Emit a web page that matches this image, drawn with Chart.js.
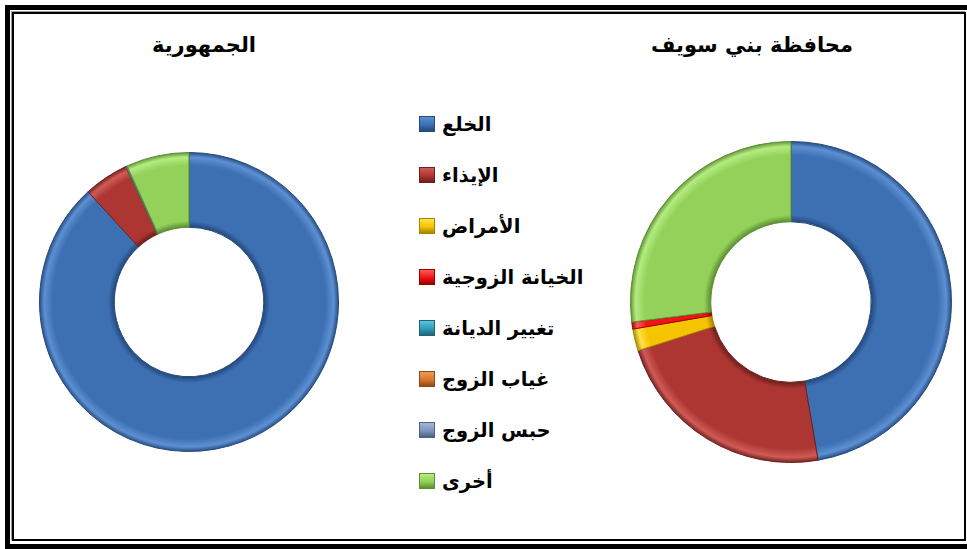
<!DOCTYPE html>
<html lang="ar">
<head>
<meta charset="utf-8">
<script src="https://cdn.jsdelivr.net/npm/chart.js@4"></script>
<style>
  body { margin: 0; background: #fff; width: 967px; height: 549px; overflow: hidden; position: relative; font-family: "DejaVu Sans", sans-serif; }
  .frame-out { position: absolute; left: 5px; top: 5px; width: 980px; height: 534px; border: 5px solid #000; }
  .frame-in { position: absolute; left: 12px; top: 12px; width: 950px; height: 525px; border: 2px solid #000; box-shadow: -1px -1px 0 #999; }
  .title { position: absolute; top: 33px; font-weight: bold; font-size: 21px; direction: rtl; white-space: nowrap; transform: translateX(-50%); }
  .box { position: absolute; }
  #legend { position: absolute; left: 419px; top: 0; }
  .item { position: absolute; left: 0; height: 26px; display: flex; align-items: center; white-space: nowrap; }
  .mark { width: 14px; height: 14px; border: 1px solid; margin-right: 7px; }
  .lbl { font-weight: bold; font-size: 19.5px; direction: rtl; }
</style>
</head>
<body>
<div class="frame-out"></div>
<div class="frame-in"></div>

<div class="title" style="left:204px">الجمهورية</div>
<div class="title" style="left:752px">محافظة بني سويف</div>

<div class="box" style="left:39px; top:152px; width:300px; height:300px;"><canvas id="chart-left"></canvas></div>
<div class="box" style="left:630px; top:141px; width:322px; height:322px;"><canvas id="chart-right"></canvas></div>
<div id="legend"></div>

<script>
// بيانات
const categories = ["الخلع", "الإيذاء", "الأمراض", "الخيانة الزوجية", "تغيير الديانة", "غياب الزوج", "حبس الزوج", "أخرى"];
const republicValues = [88.2, 4.8, 0.03, 0.02, 0.01, 0.02, 0.12, 6.8];
const beniSuefValues = [47.3, 22.8, 2.2, 0.7, 0, 0, 0, 27.0];
const sliceColors = ["#3d6fb3", "#ad3633", "#f5c400", "#f01414", "#2f9bb8", "#d9772b", "#7d94bd", "#93d15a"];
const lightColors = ["#5d8fd3", "#cf5a56", "#ffe24a", "#ff5a5a", "#5cc3dc", "#f29a55", "#a3b6d8", "#b4ec80"];
const edgeColors = ["#244a7c", "#6e1f1d", "#a88400", "#9a0000", "#1d6678", "#8e4a16", "#4f6283", "#5e8f33"];

// legend
const legend = document.getElementById("legend");
categories.forEach(function(c, i) {
  var item = document.createElement("div");
  item.className = "item";
  item.style.top = (111 + i * 51) + "px";
  item.innerHTML = '<span class="mark" style="background:linear-gradient(to bottom,' + lightColors[i] + ',' + sliceColors[i] + ' 55%,' + edgeColors[i] + ');border-color:' + edgeColors[i] + '"></span><span class="lbl">' + c + '</span>';
  legend.appendChild(item);
});

// bevel look for the ring
function ringFill(context) {
  var chart = context.chart;
  var area = chart.chartArea;
  var i = context.dataIndex;
  if (!area) return sliceColors[i];
  var cx = (area.left + area.right) / 2;
  var cy = (area.top + area.bottom) / 2;
  var r = Math.min(area.right - area.left, area.bottom - area.top) / 2;
  var g = chart.ctx.createRadialGradient(cx, cy, r * 0.5, cx, cy, r);
  g.addColorStop(0, edgeColors[i]);
  g.addColorStop(0.08, sliceColors[i]);
  g.addColorStop(0.82, sliceColors[i]);
  g.addColorStop(0.93, lightColors[i]);
  g.addColorStop(1, edgeColors[i]);
  return g;
}

function makeDonut(id, values) {
  return new Chart(document.getElementById(id), {
    type: "doughnut",
    data: {
      labels: categories,
      datasets: [{
        data: values,
        backgroundColor: ringFill,
        borderColor: edgeColors,
        borderWidth: 1
      }]
    },
    options: {
      responsive: true,
      maintainAspectRatio: false,
      animation: false,
      cutout: "50%",
      plugins: {
        legend: { display: false },
        title: { display: false },
        tooltip: { enabled: false }
      }
    }
  });
}

makeDonut("chart-left", republicValues);
makeDonut("chart-right", beniSuefValues);
</script>
</body>
</html>
